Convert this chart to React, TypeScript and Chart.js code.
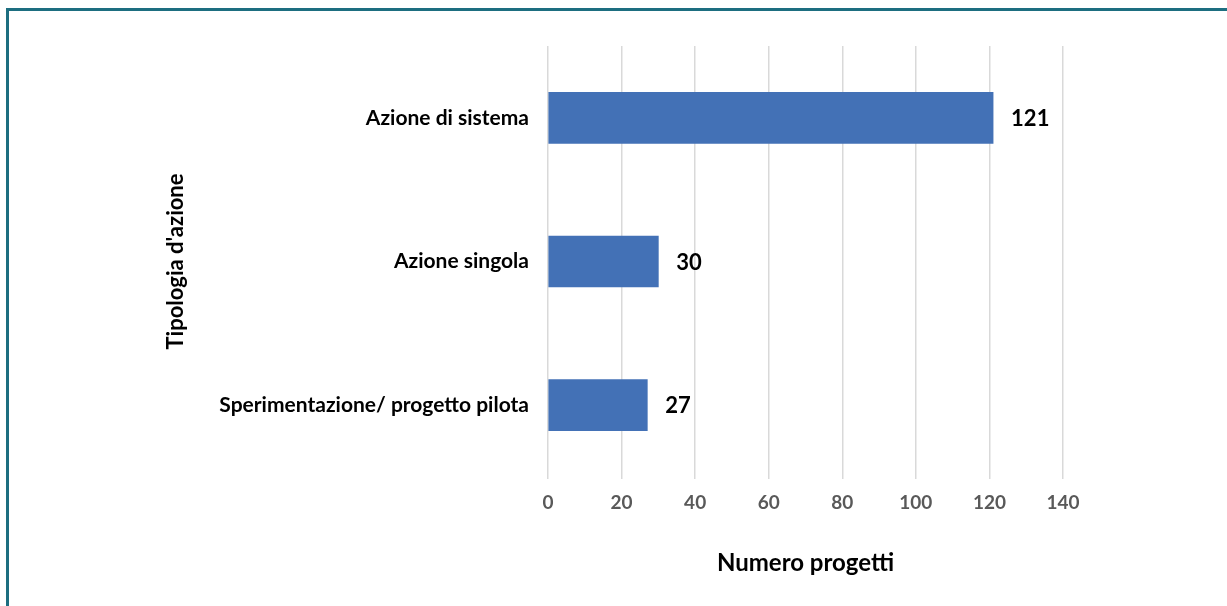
import React, { useEffect, useRef } from "react";
import { Chart, registerables } from "chart.js";

Chart.register(...registerables);

const categories = ["Azione di sistema", "Azione singola", "Sperimentazione/ progetto pilota"];
const values = [121, 30, 27];
const xTicks = [0, 20, 40, 60, 80, 100, 120, 140];
const xTitle = "Numero progetti";
const yTitle = "Tipologia d'azione";

const FONT = "Lato, 'Open Sans', sans-serif";

const valueLabels = {
  id: "valueLabels",
  afterDatasetsDraw(chart: any) {
    const ctx = chart.ctx;
    const meta = chart.getDatasetMeta(0);
    ctx.save();
    ctx.font = `bold 22px ${FONT}`;
    ctx.fillStyle = "#000000";
    ctx.textAlign = "left";
    ctx.textBaseline = "middle";
    meta.data.forEach((bar: any, i: number) => {
      ctx.fillText(String(values[i]), bar.x + 18, bar.y + 1);
    });
    ctx.restore();
  },
};

export default function App() {
  const ref = useRef<HTMLCanvasElement>(null);
  useEffect(() => {
    const chart = new Chart(ref.current!, {
      type: "bar",
      data: {
        labels: categories,
        datasets: [
          {
            data: values,
            backgroundColor: "#4371B6",
            barThickness: 51,
          },
        ],
      },
      options: {
        indexAxis: "y",
        animation: false,
        responsive: false,
        layout: { padding: { left: 0, top: 46, right: 164, bottom: 0 } },
        plugins: { legend: { display: false }, tooltip: { enabled: false } },
        scales: {
          x: {
            min: 0,
            max: 140,
            afterBuildTicks: (scale: any) => {
              scale.ticks = xTicks.map((v) => ({ value: v }));
            },
            afterFit: (scale: any) => {
              scale.height = 606 - 477;
            },
            grid: { color: "#d9d9d9", lineWidth: 1.5, tickLength: 2, drawTicks: true },
            border: { display: false },
            ticks: {
              color: "#595959",
              padding: 12,
              font: { family: FONT, size: 19, weight: "bold" },
            },
            title: {
              display: true,
              text: xTitle,
              color: "#000000",
              font: { family: FONT, size: 24, weight: "bold", lineHeight: 1 },
              padding: { top: 0, bottom: 31 },
            },
          },
          y: {
            afterFit: (scale: any) => {
              scale.width = 548;
            },
            grid: { display: false, drawTicks: false },
            border: { display: false },
            ticks: {
              color: "#000000",
              padding: 19,
              font: { family: FONT, size: 21, weight: "bold" },
            },
            title: {
              display: true,
              text: yTitle,
              color: "#000000",
              font: { family: FONT, size: 22, weight: "bold", lineHeight: 1 },
              padding: { top: 165, bottom: 0 },
            },
          },
        },
      },
      plugins: [valueLabels],
    } as any);
    return () => chart.destroy();
  }, []);
  return (
    <div style={{ position: "fixed", inset: 0, overflow: "hidden", background: "#ffffff" }}>
      <div
        style={{
          position: "absolute",
          left: 6,
          top: 8,
          width: 3000,
          height: 3000,
          borderTop: "3px solid #1d6e80",
          borderLeft: "3px solid #1d6e80",
        }}
      />
      <canvas
        ref={ref}
        width={1227}
        height={606}
        style={{ position: "absolute", left: 0, top: 0, width: 1227, height: 606 }}
      />
    </div>
  );
}
